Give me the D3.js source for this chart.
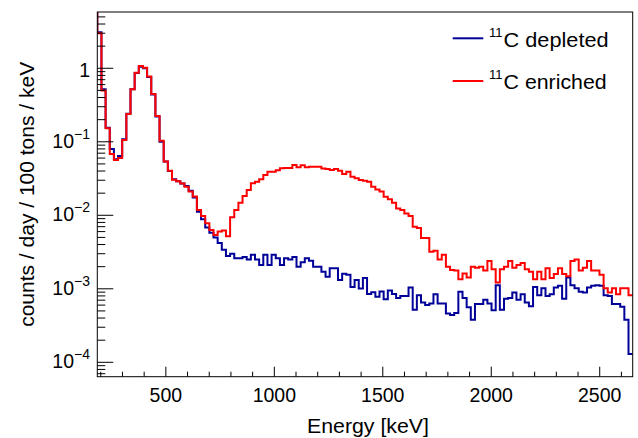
<!DOCTYPE html>
<html><head><meta charset="utf-8">
<script src="https://cdn.jsdelivr.net/npm/d3@7"></script>
<style>body{margin:0;background:#fff}svg{display:block;font-family:"Liberation Sans",Arial,Helvetica,sans-serif}</style>
</head><body><svg id="c" width="638" height="438"></svg>
<script>
// ---------- data ----------
const energyRange = [184, 2652];          // keV, visible x range
const firstBinLow = 164.87;               // low edge of first (underflow) bin
const binWidth = 19.13;                   // keV per bin
const seriesNames = ["depleted", "enriched"];
const depleted = [10,
 3.1,0.52,0.155,0.080,0.058,0.064,0.108,0.24,0.52,0.86,
 1.05,1.0,0.76,0.44,0.22,0.10,0.054,0.040,0.031,0.029,
 0.027,0.025,0.0215,0.0175,0.0112,0.0088,0.0068,0.0058,0.0050,0.0042,
 0.0034,0.0028,0.0030,0.0026,0.0026,0.0027,0.0025,0.0029,0.0025,0.0021,
 0.0029,0.0021,0.0029,0.0026,0.0021,0.0026,0.0025,0.0027,0.0020,0.0023,
 0.0026,0.0024,0.0020,0.0020,0.0017,0.00146,0.0019,0.0019,0.00132,0.0016,
 0.00155,0.00106,0.00132,0.00101,0.0014,0.00085,0.0009,0.00078,0.00092,0.00072,
 0.00095,0.00085,0.00075,0.0008,0.0008,0.00104,0.00052,0.00082,0.00065,0.00060,
 0.00063,0.00084,0.00063,0.00063,0.00046,0.00044,0.00047,0.00091,0.00075,0.00056,
 0.00038,0.00062,0.00062,0.00071,0.00063,0.00051,0.00112,0.00052,0.00073,0.00075,
 0.00089,0.00071,0.00084,0.00065,0.00058,0.00106,0.00082,0.00102,0.0008,0.00084,
 0.00104,0.0011,0.00073,0.00142,0.00112,0.00102,0.00091,0.00089,0.00104,0.0011,
 0.00112,0.0011,0.00082,0.0008,0.00062,0.00062,0.00057,0.00038,0.00013];
const enriched = [10,
 3.0,0.50,0.153,0.068,0.0565,0.060,0.106,0.239,0.52,0.87,
 1.07,1.02,0.77,0.447,0.224,0.103,0.054,0.0405,0.0305,0.029,
 0.027,0.0245,0.021,0.018,0.0118,0.0098,0.0078,0.0063,0.0054,0.0060,
 0.0062,0.0052,0.0094,0.0118,0.0148,0.0183,0.0221,0.0272,0.0286,0.031,
 0.0353,0.039,0.039,0.041,0.0436,0.044,0.044,0.0483,0.045,0.048,
 0.045,0.0458,0.0458,0.0458,0.0433,0.0425,0.0413,0.0425,0.0405,0.0365,
 0.039,0.0335,0.0318,0.0302,0.0294,0.0286,0.0245,0.0225,0.021,0.0179,
 0.0165,0.0148,0.0124,0.0118,0.0106,0.0098,0.0070,0.0067,0.0049,0.0049,
 0.0032,0.0033,0.0025,0.0029,0.0020,0.0018,0.00177,0.00135,0.00162,0.00143,
 0.0020,0.00193,0.0020,0.00177,0.00238,0.00184,0.00122,0.00184,0.0020,0.00238,
 0.00193,0.0021,0.00225,0.00184,0.0017,0.00135,0.0017,0.00135,0.0019,0.0014,
 0.00159,0.0019,0.00159,0.00148,0.00238,0.0025,0.00177,0.00193,0.00238,0.00177,
 0.00177,0.00155,0.00102,0.00089,0.00102,0.00084,0.00102,0.00102,0.00082];
const yRange = [6.37e-5, 5.83];
const xMajorTicks = [500, 1000, 1500, 2000, 2500];
const xMinorTicks = [200,300,400,600,700,800,900,1100,1200,1300,1400,1600,1700,1800,1900,2100,2200,2300,2400,2600];
const yMajorTicks = [1e-4, 1e-3, 1e-2, 1e-1, 1];
const yMajorLabels = [["10","−4"],["10","−3"],["10","−2"],["10","−1"],["1",""]];
const legendLabels = [["11","C depleted"],["11","C enriched"]];
const xTitle = "Energy [keV]";
const yTitle = "counts / day / 100 tons / keV";

// ---------- layout ----------
const L = 97.3, R = 632.7, T = 12, B = 376.7;
const colors = {depleted: "#000099", enriched: "#ff0000"};
const svg = d3.select("#c");
const x = d3.scaleLinear().domain(energyRange).range([L, R]);
const y = d3.scaleLog().domain(yRange).range([B, T]);

svg.append("defs").append("clipPath").attr("id","fr")
  .append("rect").attr("x",L).attr("y",T).attr("width",R-L).attr("height",B-T);

function stepPoints(vals){
  const pts = [];
  vals.forEach((v,i)=>{
    const lo = firstBinLow + i*binWidth, hi = lo + binWidth;
    pts.push([lo,v],[hi,v]);
  });
  return pts;
}
const line = d3.line().x(d=>x(d[0])).y(d=>y(d[1]));
const g = svg.append("g").attr("clip-path","url(#fr)");
[["depleted",depleted],["enriched",enriched]].forEach(([n,vals])=>{
  g.append("path").attr("d", line(stepPoints(vals)))
   .attr("fill","none").attr("stroke",colors[n]).attr("stroke-width",2)
   .attr("stroke-linejoin","miter");
});

// frame
svg.append("rect").attr("x",L).attr("y",T).attr("width",R-L).attr("height",B-T)
  .attr("fill","none").attr("stroke","#000").attr("stroke-width",1);

// x ticks
const ax = svg.append("g").attr("stroke","#000").attr("stroke-width",1);
xMajorTicks.forEach(v=>ax.append("line").attr("x1",x(v)).attr("x2",x(v)).attr("y1",B).attr("y2",B-10));
xMinorTicks.forEach(v=>ax.append("line").attr("x1",x(v)).attr("x2",x(v)).attr("y1",B).attr("y2",B-5));
// y ticks
yMajorTicks.forEach(v=>ax.append("line").attr("x1",L).attr("x2",L+16).attr("y1",y(v)).attr("y2",y(v)));
const yMinor = [];
yMajorTicks.concat([1e-5]).forEach(d=>{ for(let k=2;k<=9;k++){ const v=d*k; if(v>=yRange[0]&&v<=yRange[1]) yMinor.push(v);} });
yMinor.forEach(v=>ax.append("line").attr("x1",L).attr("x2",L+8).attr("y1",y(v)).attr("y2",y(v)));

// x tick labels
xMajorTicks.forEach(v=>svg.append("text").attr("x",x(v)).attr("y",401.7)
  .attr("text-anchor","middle").attr("font-size",19.5).text(v));
// y tick labels
yMajorTicks.forEach((v,i)=>{
  const [base,exp] = yMajorLabels[i];
  const t = svg.append("text").attr("x",90).attr("text-anchor","end").attr("font-size",19.5);
  if(exp){
    t.attr("y",y(v)+6);
    t.append("tspan").text(base);
    t.append("tspan").attr("font-size",14).attr("dy",-9).text(exp);
  } else {
    t.attr("y",y(v)+9).text(base);
  }
});
// axis titles
svg.append("text").attr("x",(L+R)/2+3).attr("y",432.6).attr("text-anchor","middle")
  .attr("font-size",19.5).attr("textLength",122).attr("lengthAdjust","spacingAndGlyphs").text(xTitle);
svg.append("text").attr("transform",`translate(33.5,${(T+B)/2}) rotate(-90)`).attr("text-anchor","middle")
  .attr("font-size",19.5).attr("textLength",265).attr("lengthAdjust","spacingAndGlyphs").text(yTitle);

// legend
const legY = [38.3, 81];
seriesNames.forEach((n,i)=>{
  svg.append("line").attr("x1",452.7).attr("x2",483.3).attr("y1",legY[i]).attr("y2",legY[i])
    .attr("stroke",colors[n]).attr("stroke-width",2);
  svg.append("text").attr("x",489).attr("y",legY[i]-1.6).attr("font-size",13).text(legendLabels[i][0]);
  svg.append("text").attr("x",503.6).attr("y",legY[i]+8.4).attr("font-size",20)
    .attr("textLength",i===0?105:103).attr("lengthAdjust","spacingAndGlyphs").text(legendLabels[i][1]);
});
</script></body></html>
